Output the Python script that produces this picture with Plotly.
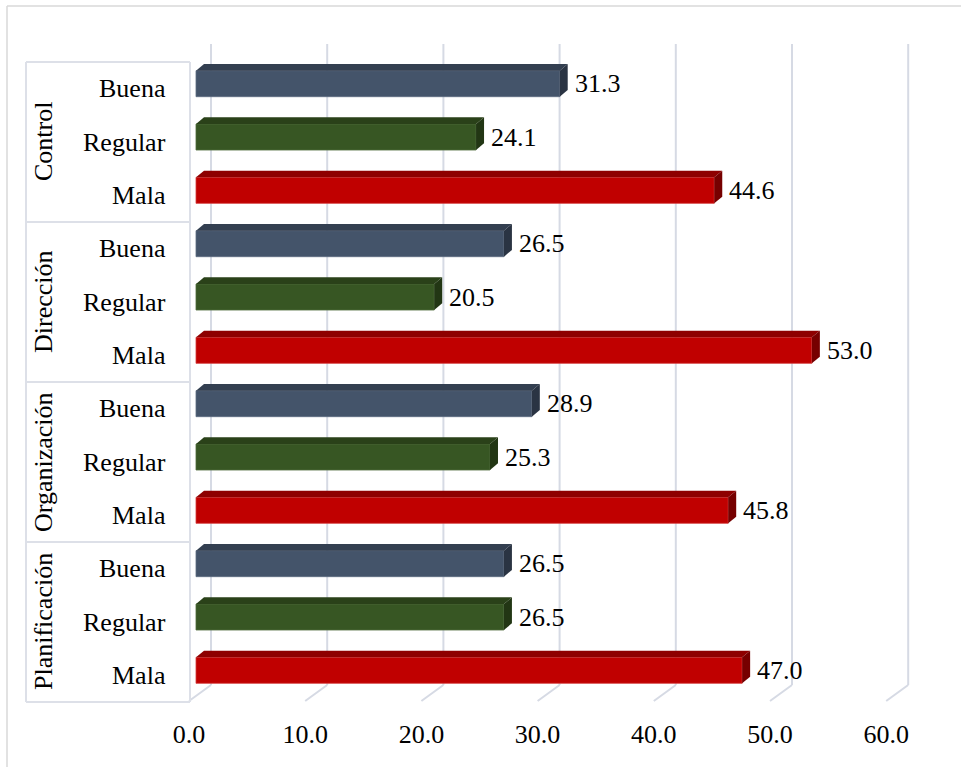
import plotly.graph_objects as go

# ---- data -------------------------------------------------------------
groups = ["Control", "Dirección", "Organización", "Planificación"]
levels = ["Buena", "Regular", "Mala"]
buena = [31.3, 26.5, 28.9, 26.5]
regular = [24.1, 20.5, 25.3, 26.5]
mala = [44.6, 53.0, 45.8, 47.0]
tick_values = [0, 10, 20, 30, 40, 50, 60]

# ---- styling ----------------------------------------------------------
FONT = "Liberation Serif, Times New Roman, serif"
FS = 26
face = {"Buena": "#44546a", "Regular": "#375623", "Mala": "#c00000"}
top = {"Buena": "#333f50", "Regular": "#2a4119", "Mala": "#8e0000"}
side = {"Buena": "#2a3443", "Regular": "#223614", "Mala": "#760000"}
edge = {"Buena": "#5d6c81", "Regular": "#4e6b3b", "Mala": "#d33b3b"}
GRID = "#d6dae4"
TABLE = "#dde0e8"

# pixel geometry of the frame
W, H = 961, 767
PLOT_H = 716
SX = 11.62          # px per value unit
SY = 53.33          # px per category row
X0 = 196            # px of value 0 on the bar front face
Y0 = 88.7           # px of the first row centre


def xd(px):
    return (px - X0) / SX


def yd(py):
    return (py - Y0) / SY


# 3D depth of the bars and the back wall
BAR_DX, BAR_DY = 8 / SX, 6.7 / SY
WALL_DX = 15 / SX
FLOOR_DX = -7 / SX
FACE_TOP, FACE_BOT = -18 / SY, 8 / SY

series = {"Buena": buena, "Regular": regular, "Mala": mala}

fig = go.Figure()
shapes = []
annotations = []

# back-wall grid lines and the slanted floor lines
for v in tick_values:
    xb = v + WALL_DX
    shapes.append(dict(type="line", xref="x", yref="y", x0=xb, x1=xb,
                       y0=yd(44), y1=yd(685), layer="below",
                       line=dict(color=GRID, width=2)))
    shapes.append(dict(type="line", xref="x", yref="y", x0=xb, x1=v + FLOOR_DX,
                       y0=yd(685), y1=yd(701), layer="below",
                       line=dict(color=GRID, width=2)))

# bars: front faces as a bar trace, top and side faces as paths
for j, lvl in enumerate(levels):
    vals = series[lvl]
    ys = [g * 3 + j for g in range(len(groups))]
    fig.add_trace(go.Bar(
        x=vals, y=ys, orientation="h", base=0,
        width=FACE_BOT - FACE_TOP, offset=FACE_TOP,
        marker=dict(color=face[lvl], line=dict(color=edge[lvl], width=0.8)),
        name=lvl, hoverinfo="x+name",
    ))
    for v, yc in zip(vals, ys):
        t, b = yc + FACE_TOP, yc + FACE_BOT
        shapes.append(dict(
            type="path", xref="x", yref="y", layer="above",
            path=f"M 0,{t} L {BAR_DX},{t - BAR_DY} L {v + BAR_DX},{t - BAR_DY} L {v},{t} Z",
            fillcolor=top[lvl], line=dict(width=0)))
        shapes.append(dict(
            type="path", xref="x", yref="y", layer="above",
            path=f"M {v},{t} L {v + BAR_DX},{t - BAR_DY} L {v + BAR_DX},{b - BAR_DY} L {v},{b} Z",
            fillcolor=side[lvl], line=dict(width=0)))
        annotations.append(dict(
            x=v + 13 / SX, y=yc - 5 / SY, xref="x", yref="y",
            text=f"{v:.1f}", showarrow=False, xanchor="left", yanchor="middle",
            font=dict(family=FONT, size=FS, color="#000000")))

# category table on the left
n_rows = len(groups) * len(levels)
for g in range(len(groups) + 1):
    yb = g * 3 - 0.5
    shapes.append(dict(type="line", xref="x", yref="y", x0=xd(26), x1=xd(190),
                       y0=yb, y1=yb, line=dict(color=TABLE, width=2)))
for xp in (26, 190):
    shapes.append(dict(type="line", xref="x", yref="y", x0=xd(xp), x1=xd(xp),
                       y0=-0.5, y1=n_rows - 0.5, line=dict(color=TABLE, width=2)))

for g, name in enumerate(groups):
    annotations.append(dict(
        x=xd(43), y=g * 3 + 1, xref="x", yref="y", text=name, textangle=-90,
        showarrow=False, xanchor="center", yanchor="middle",
        font=dict(family=FONT, size=FS, color="#000000")))
    for j, lvl in enumerate(levels):
        annotations.append(dict(
            x=xd(168), y=g * 3 + j, xref="x", yref="y", text=lvl,
            showarrow=False, xanchor="right", yanchor="middle",
            font=dict(family=FONT, size=FS, color="#000000")))

# outer chart frame (top and left edges)
shapes.append(dict(type="line", xref="paper", yref="paper",
                   x0=7 / W, x1=1.0, y0=1 - 6 / PLOT_H, y1=1 - 6 / PLOT_H,
                   line=dict(color="#d9d9d9", width=1.5)))
shapes.append(dict(type="line", xref="paper", yref="paper",
                   x0=7 / W, x1=7 / W, y0=1 - 6 / PLOT_H, y1=-(H - PLOT_H) / PLOT_H,
                   line=dict(color="#d9d9d9", width=1.5)))

fig.update_layout(
    width=W, height=H,
    margin=dict(l=0, r=0, t=0, b=H - PLOT_H, autoexpand=False),
    plot_bgcolor="white", paper_bgcolor="white",
    showlegend=False, barmode="overlay",
    shapes=shapes, annotations=annotations,
    xaxis=dict(
        range=[xd(0), xd(W)], showgrid=False, zeroline=False, showline=False,
        tickvals=[v + FLOOR_DX for v in tick_values],
        ticktext=[f"{v:.1f}" for v in tick_values],
        ticks="", tickfont=dict(family=FONT, size=FS, color="#000000"),
        fixedrange=True,
    ),
    yaxis=dict(range=[yd(PLOT_H), yd(0)], visible=False, fixedrange=True),
)

fig.write_html("out.html")
